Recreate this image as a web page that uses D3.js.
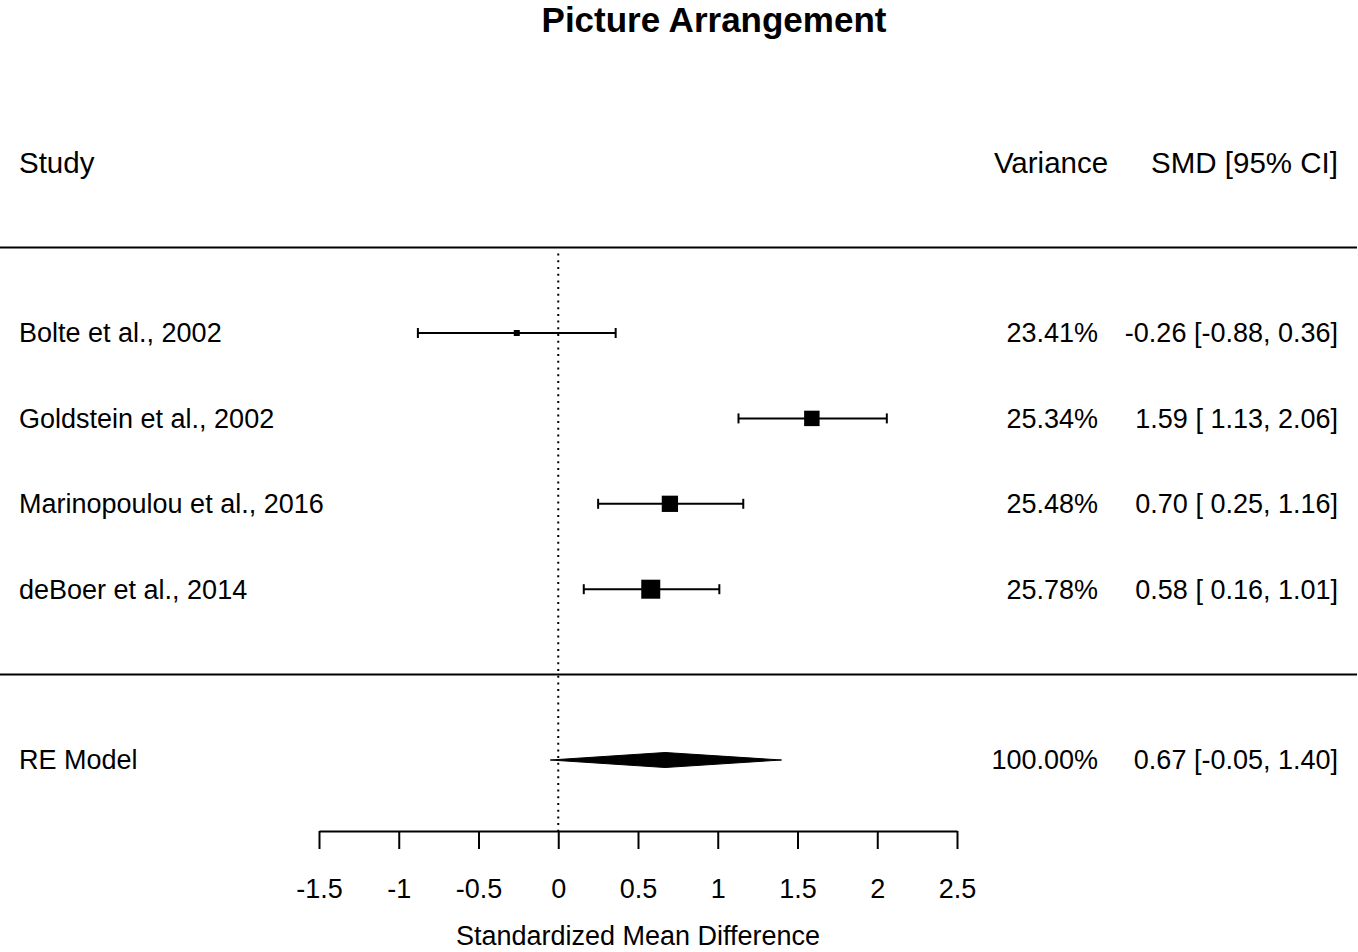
<!DOCTYPE html>
<html>
<head>
<meta charset="utf-8">
<script src="https://cdn.jsdelivr.net/npm/d3@7"></script>
<style>
  body { margin: 0; background: #fff; }
  svg text { font-family: "Liberation Sans", Arial, sans-serif; fill: #000; }
</style>
</head>
<body>
<script>
// study data, top to bottom
const studies = ["Bolte et al., 2002", "Goldstein et al., 2002", "Marinopoulou et al., 2016", "deBoer et al., 2014"];
const smd = [-0.26, 1.59, 0.70, 0.58];
const ciLow = [-0.88, 1.13, 0.25, 0.16];
const ciHigh = [0.36, 2.06, 1.16, 1.01];
const weights = ["23.41%", "25.34%", "25.48%", "25.78%"];
const smdLabels = ["-0.26 [-0.88, 0.36]", "1.59 [ 1.13, 2.06]", "0.70 [ 0.25, 1.16]", "0.58 [ 0.16, 1.01]"];

// summary (random effects model)
const reLabel = "RE Model";
const reEst = 0.67;
const reLow = -0.05;
const reHigh = 1.40;
const reWeight = "100.00%";
const reText = "0.67 [-0.05, 1.40]";

const xTicks = [-1.5, -1, -0.5, 0, 0.5, 1, 1.5, 2, 2.5];

const width = 1358, height = 952;
const fontSize = 27;
const headSize = 29.5;

const svg = d3.select("body").append("svg")
  .attr("width", width)
  .attr("height", height);

const x = d3.scaleLinear().domain([-1.5, 2.5]).range([319, 957]);
// metafor style rows: studies k..1, summary at -1, header at k+2
const k = studies.length;
const y = d3.scaleLinear().domain([k, -1]).range([333, 760]);
const axisY = 831;

// square size from precision (1 / ci width), like metafor psize
const prec = studies.map((_, i) => 1 / (ciHigh[i] - ciLow[i]));
const sizeScale = d3.scaleLinear().domain(d3.extent(prec)).range([6, 19]);

const rows = studies.map((s, i) => ({
  name: s, est: smd[i], lo: ciLow[i], hi: ciHigh[i],
  w: weights[i], lab: smdLabels[i], row: k - i, size: sizeScale(prec[i])
}));

// title
svg.append("text")
  .attr("x", 714)
  .attr("y", 32)
  .attr("text-anchor", "middle")
  .attr("font-size", 35)
  .attr("font-weight", "bold")
  .text("Picture Arrangement");

// header
const header = svg.append("g").attr("font-size", headSize);
header.append("text").attr("x", 19).attr("y", y(k + 2)).attr("dy", "0.35em").text("Study");
header.append("text").attr("x", 1051).attr("y", y(k + 2)).attr("dy", "0.35em")
  .attr("text-anchor", "middle").text("Variance");
header.append("text").attr("x", 1338).attr("y", y(k + 2)).attr("dy", "0.35em")
  .attr("text-anchor", "end").text("SMD [95% CI]");

// horizontal separators
svg.selectAll(".sep")
  .data([k + 1, 0])
  .join("line")
  .attr("class", "sep")
  .attr("x1", 0)
  .attr("x2", 1357)
  .attr("y1", d => y(d))
  .attr("y2", d => y(d))
  .attr("stroke", "#000")
  .attr("stroke-width", 2);

// reference line at 0
svg.append("line")
  .attr("x1", x(0)).attr("x2", x(0))
  .attr("y1", y(k + 1) + 6).attr("y2", axisY)
  .attr("stroke", "#000")
  .attr("stroke-width", 2)
  .attr("stroke-dasharray", "2,4.7");

// study rows
const g = svg.selectAll(".study")
  .data(rows)
  .join("g")
  .attr("class", "study")
  .attr("transform", d => `translate(0,${y(d.row)})`);

g.append("line")
  .attr("x1", d => x(d.lo)).attr("x2", d => x(d.hi))
  .attr("y1", 0).attr("y2", 0)
  .attr("stroke", "#000").attr("stroke-width", 2);

g.selectAll(".cap")
  .data(d => [d.lo, d.hi])
  .join("line")
  .attr("class", "cap")
  .attr("x1", v => x(v)).attr("x2", v => x(v))
  .attr("y1", -5).attr("y2", 5)
  .attr("stroke", "#000").attr("stroke-width", 2);

g.append("rect")
  .attr("x", d => x(d.est) - d.size / 2)
  .attr("y", d => -d.size / 2)
  .attr("width", d => d.size)
  .attr("height", d => d.size)
  .attr("fill", "#000");

g.append("text")
  .attr("x", 19).attr("dy", "0.35em")
  .attr("font-size", fontSize)
  .text(d => d.name);

g.append("text")
  .attr("x", 1098).attr("dy", "0.35em")
  .attr("text-anchor", "end")
  .attr("font-size", fontSize)
  .text(d => d.w);

g.append("text")
  .attr("x", 1338).attr("dy", "0.35em")
  .attr("text-anchor", "end")
  .attr("font-size", fontSize)
  .attr("xml:space", "preserve")
  .style("white-space", "pre")
  .text(d => d.lab);

// summary diamond
const yRe = y(-1);
const dh = 7.5;
svg.append("polygon")
  .attr("points", [
    [x(reLow), yRe], [x(reEst), yRe - dh], [x(reHigh), yRe], [x(reEst), yRe + dh]
  ].map(p => p.join(",")).join(" "))
  .attr("fill", "#000")
  .attr("stroke", "#000")
  .attr("stroke-width", 1);

const reG = svg.append("g").attr("font-size", fontSize);
reG.append("text").attr("x", 19).attr("y", yRe).attr("dy", "0.35em").text(reLabel);
reG.append("text").attr("x", 1098).attr("y", yRe).attr("dy", "0.35em")
  .attr("text-anchor", "end").text(reWeight);
reG.append("text").attr("x", 1338).attr("y", yRe).attr("dy", "0.35em")
  .attr("text-anchor", "end").text(reText);

// x axis
const axis = d3.axisBottom(x)
  .tickValues(xTicks)
  .tickFormat(d => String(d))
  .tickSizeInner(18)
  .tickSizeOuter(0)
  .tickPadding(30);

const ax = svg.append("g")
  .attr("transform", `translate(0,${axisY})`)
  .call(axis);
ax.select(".domain").attr("stroke-width", 2);
ax.selectAll(".tick line").attr("stroke-width", 2);
ax.selectAll(".tick text")
  .attr("font-size", fontSize)
  .attr("font-family", "Liberation Sans, Arial, sans-serif");

svg.append("text")
  .attr("x", (x.range()[0] + x.range()[1]) / 2)
  .attr("y", 945)
  .attr("text-anchor", "middle")
  .attr("font-size", fontSize)
  .text("Standardized Mean Difference");
</script>
</body>
</html>
